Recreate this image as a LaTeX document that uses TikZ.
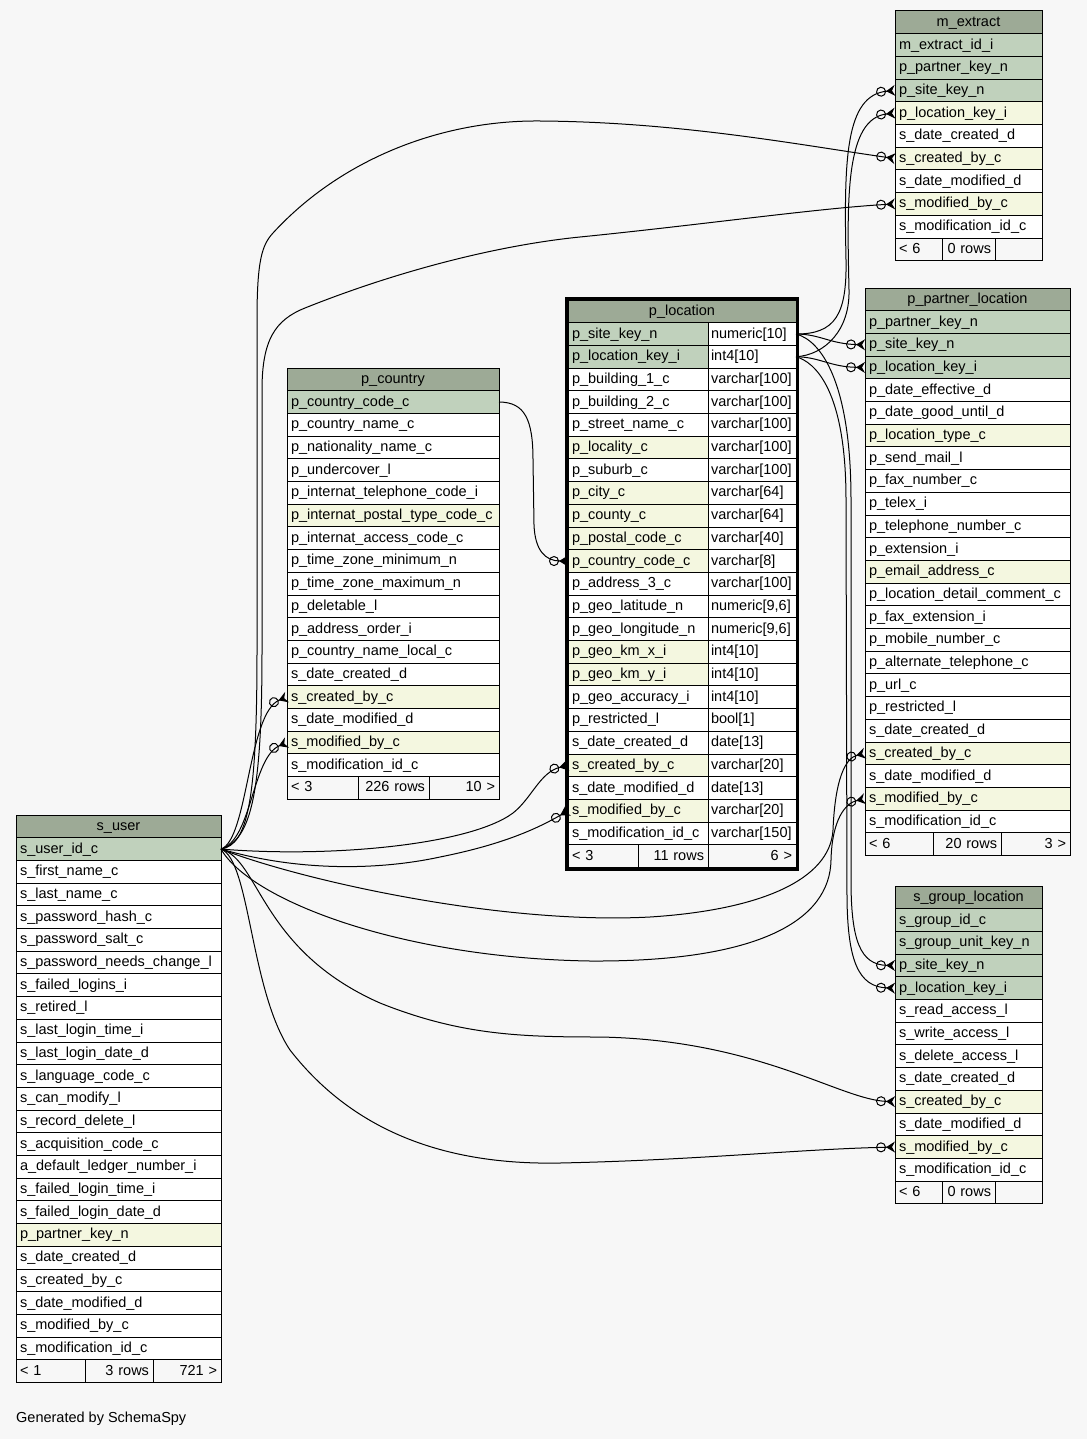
\documentclass[tikz,border=0pt]{standalone}
\usepackage{fontspec}
\setmainfont{Liberation Sans}
\usetikzlibrary{positioning,arrows.meta}

\definecolor{bgfill}{HTML}{F7F7F7}
\definecolor{headfill}{HTML}{9DAA96}
\definecolor{keyfill}{HTML}{C0D1BC}
\definecolor{idxfill}{HTML}{F4F7E0}

\newcommand\cellfont{\fontsize{14.5bp}{17bp}\selectfont}

\tikzset{
	cell/.style={draw, line width=1bp, fill=white, outer sep=0pt, inner xsep=4bp, inner ysep=0pt,
		minimum height=22.7bp, text height=11bp, text depth=3bp, align=left, anchor=north west, font=\cellfont},
	head/.style={fill=headfill, align=center},
	key/.style={fill=keyfill},
	idx/.style={fill=idxfill},
	foot/.style={fill=bgfill},
	ext/.style={cell, text width=139bp},
	ppl/.style={cell, text width=197bp},
	loc/.style={cell, text width=132bp},
	loctype/.style={cell, text width=82bp, inner xsep=3bp},
	cty/.style={cell, text width=204bp},
	usr/.style={cell, text width=197bp},
	grp/.style={cell, text width=139bp},
	fk/.style={line width=1bp, -{Circle[open, length=10bp, width=10bp] Stealth[reversed, length=9bp, width=11bp, inset=3bp]}}
}

\begin{document}
\begin{tikzpicture}[x=1bp, y=-1bp, node distance=0pt]
		% фон
		\fill [bgfill] (0,0) rectangle (1087,1439);

		% таблица m_extract
		\node [ext, head] (ext-head) at (895,11) {m\_extract};
		\node [ext, key] (ext-id) [below=of ext-head] {m\_extract\_id\_i};
		\node [ext, key] (ext-partner) [below=of ext-id] {p\_partner\_key\_n};
		\node [ext, key] (ext-site) [below=of ext-partner] {p\_site\_key\_n};
		\node [ext, idx] (ext-loc) [below=of ext-site] {p\_location\_key\_i};
		\node [ext] (ext-dcreated) [below=of ext-loc] {s\_date\_created\_d};
		\node [ext, idx] (ext-created) [below=of ext-dcreated] {s\_created\_by\_c};
		\node [ext] (ext-dmod) [below=of ext-created] {s\_date\_modified\_d};
		\node [ext, idx] (ext-mod) [below=of ext-dmod] {s\_modified\_by\_c};
		\node [ext] (ext-modid) [below=of ext-mod] {s\_modification\_id\_c};
		\node [ext, foot, text width=39bp] (ext-f1) at (ext-modid.south west) {< 6};
		\node [ext, foot, text width=45bp, align=right] (ext-f2) [right=of ext-f1] {0 rows};
		\node [ext, foot, text width=39bp] (ext-f3) [right=of ext-f2] {};

		% таблица p_partner_location
		\node [ppl, head] (ppl-head) at (865,288) {p\_partner\_location};
		\node [ppl, key] (ppl-partner) [below=of ppl-head] {p\_partner\_key\_n};
		\node [ppl, key] (ppl-site) [below=of ppl-partner] {p\_site\_key\_n};
		\node [ppl, key] (ppl-loc) [below=of ppl-site] {p\_location\_key\_i};
		\node [ppl] (ppl-deff) [below=of ppl-loc] {p\_date\_effective\_d};
		\node [ppl] (ppl-dgood) [below=of ppl-deff] {p\_date\_good\_until\_d};
		\node [ppl, idx] (ppl-type) [below=of ppl-dgood] {p\_location\_type\_c};
		\node [ppl] (ppl-mail) [below=of ppl-type] {p\_send\_mail\_l};
		\node [ppl] (ppl-fax) [below=of ppl-mail] {p\_fax\_number\_c};
		\node [ppl] (ppl-telex) [below=of ppl-fax] {p\_telex\_i};
		\node [ppl] (ppl-phone) [below=of ppl-telex] {p\_telephone\_number\_c};
		\node [ppl] (ppl-ext) [below=of ppl-phone] {p\_extension\_i};
		\node [ppl, idx] (ppl-email) [below=of ppl-ext] {p\_email\_address\_c};
		\node [ppl] (ppl-comment) [below=of ppl-email] {p\_location\_detail\_comment\_c};
		\node [ppl] (ppl-faxext) [below=of ppl-comment] {p\_fax\_extension\_i};
		\node [ppl] (ppl-mobile) [below=of ppl-faxext] {p\_mobile\_number\_c};
		\node [ppl] (ppl-altphone) [below=of ppl-mobile] {p\_alternate\_telephone\_c};
		\node [ppl] (ppl-url) [below=of ppl-altphone] {p\_url\_c};
		\node [ppl] (ppl-restr) [below=of ppl-url] {p\_restricted\_l};
		\node [ppl] (ppl-dcreated) [below=of ppl-restr] {s\_date\_created\_d};
		\node [ppl, idx] (ppl-created) [below=of ppl-dcreated] {s\_created\_by\_c};
		\node [ppl] (ppl-dmod) [below=of ppl-created] {s\_date\_modified\_d};
		\node [ppl, idx] (ppl-mod) [below=of ppl-dmod] {s\_modified\_by\_c};
		\node [ppl] (ppl-modid) [below=of ppl-mod] {s\_modification\_id\_c};
		\node [ppl, foot, text width=60bp] (ppl-f1) at (ppl-modid.south west) {< 6};
		\node [ppl, foot, text width=60bp, align=right] (ppl-f2) [right=of ppl-f1] {20 rows};
		\node [ppl, foot, text width=61bp, align=right] (ppl-f3) [right=of ppl-f2] {3 >};

		% таблица p_location
		\node [loc, head, text width=220bp] (loc-head) at (568,300) {p\_location};
		\node [loc, key] (loc-site) [below=of loc-head.south west, anchor=north west] {p\_site\_key\_n};
		\node [loctype] (loc-site-t) [right=of loc-site] {numeric[10]};
		\node [loc, key] (loc-loc) [below=of loc-site] {p\_location\_key\_i};
		\node [loctype] (loc-loc-t) [right=of loc-loc] {int4[10]};
		\node [loc] (loc-b1) [below=of loc-loc] {p\_building\_1\_c};
		\node [loctype] (loc-b1-t) [right=of loc-b1] {varchar[100]};
		\node [loc] (loc-b2) [below=of loc-b1] {p\_building\_2\_c};
		\node [loctype] (loc-b2-t) [right=of loc-b2] {varchar[100]};
		\node [loc] (loc-street) [below=of loc-b2] {p\_street\_name\_c};
		\node [loctype] (loc-street-t) [right=of loc-street] {varchar[100]};
		\node [loc, idx] (loc-locality) [below=of loc-street] {p\_locality\_c};
		\node [loctype] (loc-locality-t) [right=of loc-locality] {varchar[100]};
		\node [loc] (loc-suburb) [below=of loc-locality] {p\_suburb\_c};
		\node [loctype] (loc-suburb-t) [right=of loc-suburb] {varchar[100]};
		\node [loc, idx] (loc-city) [below=of loc-suburb] {p\_city\_c};
		\node [loctype] (loc-city-t) [right=of loc-city] {varchar[64]};
		\node [loc, idx] (loc-county) [below=of loc-city] {p\_county\_c};
		\node [loctype] (loc-county-t) [right=of loc-county] {varchar[64]};
		\node [loc, idx] (loc-postal) [below=of loc-county] {p\_postal\_code\_c};
		\node [loctype] (loc-postal-t) [right=of loc-postal] {varchar[40]};
		\node [loc, idx] (loc-country) [below=of loc-postal] {p\_country\_code\_c};
		\node [loctype] (loc-country-t) [right=of loc-country] {varchar[8]};
		\node [loc] (loc-addr3) [below=of loc-country] {p\_address\_3\_c};
		\node [loctype] (loc-addr3-t) [right=of loc-addr3] {varchar[100]};
		\node [loc] (loc-lat) [below=of loc-addr3] {p\_geo\_latitude\_n};
		\node [loctype] (loc-lat-t) [right=of loc-lat] {numeric[9,6]};
		\node [loc] (loc-long) [below=of loc-lat] {p\_geo\_longitude\_n};
		\node [loctype] (loc-long-t) [right=of loc-long] {numeric[9,6]};
		\node [loc, idx] (loc-kmx) [below=of loc-long] {p\_geo\_km\_x\_i};
		\node [loctype] (loc-kmx-t) [right=of loc-kmx] {int4[10]};
		\node [loc, idx] (loc-kmy) [below=of loc-kmx] {p\_geo\_km\_y\_i};
		\node [loctype] (loc-kmy-t) [right=of loc-kmy] {int4[10]};
		\node [loc] (loc-acc) [below=of loc-kmy] {p\_geo\_accuracy\_i};
		\node [loctype] (loc-acc-t) [right=of loc-acc] {int4[10]};
		\node [loc] (loc-restr) [below=of loc-acc] {p\_restricted\_l};
		\node [loctype] (loc-restr-t) [right=of loc-restr] {bool[1]};
		\node [loc] (loc-dcreated) [below=of loc-restr] {s\_date\_created\_d};
		\node [loctype] (loc-dcreated-t) [right=of loc-dcreated] {date[13]};
		\node [loc, idx] (loc-created) [below=of loc-dcreated] {s\_created\_by\_c};
		\node [loctype] (loc-created-t) [right=of loc-created] {varchar[20]};
		\node [loc] (loc-dmod) [below=of loc-created] {s\_date\_modified\_d};
		\node [loctype] (loc-dmod-t) [right=of loc-dmod] {date[13]};
		\node [loc, idx] (loc-mod) [below=of loc-dmod] {s\_modified\_by\_c};
		\node [loctype] (loc-mod-t) [right=of loc-mod] {varchar[20]};
		\node [loc] (loc-modid) [below=of loc-mod] {s\_modification\_id\_c};
		\node [loctype] (loc-modid-t) [right=of loc-modid] {varchar[150]};
		\node [loc, foot, text width=62bp] (loc-f1) at (loc-modid.south west) {< 3};
		\node [loc, foot, text width=62bp, align=right] (loc-f2) [right=of loc-f1] {11 rows};
		\node [loc, foot, text width=80bp, align=right] (loc-f3) [right=of loc-f2] {6 >};
		\draw [line width=3bp] ([xshift=-1.5bp, yshift=1.5bp]loc-head.north west) rectangle ([xshift=1.5bp, yshift=-1.5bp]loc-f3.south east);

		% таблица p_country
		\node [cty, head] (cty-head) at (287,368) {p\_country};
		\node [cty, key] (cty-code) [below=of cty-head] {p\_country\_code\_c};
		\node [cty] (cty-name) [below=of cty-code] {p\_country\_name\_c};
		\node [cty] (cty-nat) [below=of cty-name] {p\_nationality\_name\_c};
		\node [cty] (cty-under) [below=of cty-nat] {p\_undercover\_l};
		\node [cty] (cty-phone) [below=of cty-under] {p\_internat\_telephone\_code\_i};
		\node [cty, idx] (cty-postal) [below=of cty-phone] {p\_internat\_postal\_type\_code\_c};
		\node [cty] (cty-access) [below=of cty-postal] {p\_internat\_access\_code\_c};
		\node [cty] (cty-tzmin) [below=of cty-access] {p\_time\_zone\_minimum\_n};
		\node [cty] (cty-tzmax) [below=of cty-tzmin] {p\_time\_zone\_maximum\_n};
		\node [cty] (cty-del) [below=of cty-tzmax] {p\_deletable\_l};
		\node [cty] (cty-order) [below=of cty-del] {p\_address\_order\_i};
		\node [cty] (cty-local) [below=of cty-order] {p\_country\_name\_local\_c};
		\node [cty] (cty-dcreated) [below=of cty-local] {s\_date\_created\_d};
		\node [cty, idx] (cty-created) [below=of cty-dcreated] {s\_created\_by\_c};
		\node [cty] (cty-dmod) [below=of cty-created] {s\_date\_modified\_d};
		\node [cty, idx] (cty-mod) [below=of cty-dmod] {s\_modified\_by\_c};
		\node [cty] (cty-modid) [below=of cty-mod] {s\_modification\_id\_c};
		\node [cty, foot, text width=63bp] (cty-f1) at (cty-modid.south west) {< 3};
		\node [cty, foot, text width=63bp, align=right] (cty-f2) [right=of cty-f1] {226 rows};
		\node [cty, foot, text width=62bp, align=right] (cty-f3) [right=of cty-f2] {10 >};

		% таблица s_user
		\node [usr, head] (usr-head) at (16,815) {s\_user};
		\node [usr, key] (usr-id) [below=of usr-head] {s\_user\_id\_c};
		\node [usr] (usr-first) [below=of usr-id] {s\_first\_name\_c};
		\node [usr] (usr-last) [below=of usr-first] {s\_last\_name\_c};
		\node [usr] (usr-hash) [below=of usr-last] {s\_password\_hash\_c};
		\node [usr] (usr-salt) [below=of usr-hash] {s\_password\_salt\_c};
		\node [usr] (usr-change) [below=of usr-salt] {s\_password\_needs\_change\_l};
		\node [usr] (usr-fails) [below=of usr-change] {s\_failed\_logins\_i};
		\node [usr] (usr-retired) [below=of usr-fails] {s\_retired\_l};
		\node [usr] (usr-ltime) [below=of usr-retired] {s\_last\_login\_time\_i};
		\node [usr] (usr-ldate) [below=of usr-ltime] {s\_last\_login\_date\_d};
		\node [usr] (usr-lang) [below=of usr-ldate] {s\_language\_code\_c};
		\node [usr] (usr-canmod) [below=of usr-lang] {s\_can\_modify\_l};
		\node [usr] (usr-recdel) [below=of usr-canmod] {s\_record\_delete\_l};
		\node [usr] (usr-acq) [below=of usr-recdel] {s\_acquisition\_code\_c};
		\node [usr] (usr-ledger) [below=of usr-acq] {a\_default\_ledger\_number\_i};
		\node [usr] (usr-ftime) [below=of usr-ledger] {s\_failed\_login\_time\_i};
		\node [usr] (usr-fdate) [below=of usr-ftime] {s\_failed\_login\_date\_d};
		\node [usr, idx] (usr-partner) [below=of usr-fdate] {p\_partner\_key\_n};
		\node [usr] (usr-dcreated) [below=of usr-partner] {s\_date\_created\_d};
		\node [usr] (usr-created) [below=of usr-dcreated] {s\_created\_by\_c};
		\node [usr] (usr-dmod) [below=of usr-created] {s\_date\_modified\_d};
		\node [usr] (usr-mod) [below=of usr-dmod] {s\_modified\_by\_c};
		\node [usr] (usr-modid) [below=of usr-mod] {s\_modification\_id\_c};
		\node [usr, foot, text width=61bp] (usr-f1) at (usr-modid.south west) {< 1};
		\node [usr, foot, text width=60bp, align=right] (usr-f2) [right=of usr-f1] {3 rows};
		\node [usr, foot, text width=60bp, align=right] (usr-f3) [right=of usr-f2] {721 >};

		% таблица s_group_location
		\node [grp, head] (grp-head) at (895,886) {s\_group\_location};
		\node [grp, key] (grp-id) [below=of grp-head] {s\_group\_id\_c};
		\node [grp, key] (grp-unit) [below=of grp-id] {s\_group\_unit\_key\_n};
		\node [grp, key] (grp-site) [below=of grp-unit] {p\_site\_key\_n};
		\node [grp, key] (grp-loc) [below=of grp-site] {p\_location\_key\_i};
		\node [grp] (grp-read) [below=of grp-loc] {s\_read\_access\_l};
		\node [grp] (grp-write) [below=of grp-read] {s\_write\_access\_l};
		\node [grp] (grp-del) [below=of grp-write] {s\_delete\_access\_l};
		\node [grp] (grp-dcreated) [below=of grp-del] {s\_date\_created\_d};
		\node [grp, idx] (grp-created) [below=of grp-dcreated] {s\_created\_by\_c};
		\node [grp] (grp-dmod) [below=of grp-created] {s\_date\_modified\_d};
		\node [grp, idx] (grp-mod) [below=of grp-dmod] {s\_modified\_by\_c};
		\node [grp] (grp-modid) [below=of grp-mod] {s\_modification\_id\_c};
		\node [grp, foot, text width=39bp] (grp-f1) at (grp-modid.south west) {< 6};
		\node [grp, foot, text width=45bp, align=right] (grp-f2) [right=of grp-f1] {0 rows};
		\node [grp, foot, text width=39bp] (grp-f3) [right=of grp-f2] {};

		% связи от s_user
		\draw [fk] (usr-id.east) .. controls (248,845) and (257,800) .. (257,650) -- (257,320) .. controls (257,260) and (262,245) .. (273,233) .. controls (340,160) and (440,120) .. (540,121) .. controls (680,122) and (800,145) .. (ext-created.west);
		\draw [fk] (usr-id.east) .. controls (252,840) and (262,790) .. (262,650) -- (262,390) .. controls (262,340) and (275,320) .. (305,308) .. controls (400,270) and (500,245) .. (580,237) .. controls (700,225) and (820,208) .. (ext-mod.west);
		\draw [fk] (usr-id.east) .. controls (248,840) and (248,712) .. (cty-created.west);
		\draw [fk] (usr-id.east) .. controls (252,840) and (252,757) .. (cty-mod.west);
		\draw [fk] (usr-id.east) .. controls (330,858) and (470,845) .. (513,813) .. controls (532,798) and (540,772) .. (loc-created.west);
		\draw [fk] (usr-id.east) .. controls (300,872) and (380,870) .. (440,857) .. controls (500,845) and (535,830) .. (loc-mod.west);
		\draw [fk] (usr-id.east) .. controls (300,880) and (500,925) .. (650,917) .. controls (760,910) and (830,880) .. (833,830) .. controls (835,780) and (845,758) .. (ppl-created.west);
		\draw [fk] (usr-id.east) .. controls (250,900) and (400,958) .. (590,961) .. controls (760,962) and (830,920) .. (831,860) .. controls (832,820) and (845,803) .. (ppl-mod.west);
		\draw [fk] (usr-id.east) .. controls (260,860) and (260,950) .. (380,1003) .. controls (460,1035) and (520,1037) .. (600,1037) .. controls (760,1040) and (840,1100) .. (grp-created.west);
		\draw [fk] (usr-id.east) .. controls (250,860) and (250,990) .. (290,1050) .. controls (360,1140) and (460,1165) .. (560,1163) .. controls (700,1160) and (800,1149) .. (grp-mod.west);

		% связи от p_location
		\draw [fk] (loc-site-t.east) .. controls (835,334) and (847,315) .. (846,260) .. controls (844,160) and (845,95) .. (ext-site.west);
		\draw [fk] (loc-loc-t.east) .. controls (825,355) and (850,330) .. (849,290) .. controls (847,200) and (845,118) .. (ext-loc.west);
		\draw [fk] (loc-site-t.east) .. controls (820,334) and (830,344) .. (ppl-site.west);
		\draw [fk] (loc-loc-t.east) .. controls (820,357) and (830,367) .. (ppl-loc.west);
		\draw [fk] (loc-site-t.east) .. controls (820,340) and (851,380) .. (851,500) -- (851,880) .. controls (851,940) and (860,965) .. (grp-site.west);
		\draw [fk] (loc-loc-t.east) .. controls (815,362) and (846,390) .. (846,500) -- (847,900) .. controls (848,960) and (858,987) .. (grp-loc.west);

		% связь от p_country
		\draw [fk] (cty-code.east) .. controls (525,402) and (533,420) .. (533,460) -- (534,525) .. controls (535,550) and (545,561) .. (loc-country.west);

		% подпись
		\node [font=\cellfont, anchor=west, inner sep=0pt] (note) at (16,1419) {Generated by SchemaSpy};
	\end{tikzpicture}
\end{document}
